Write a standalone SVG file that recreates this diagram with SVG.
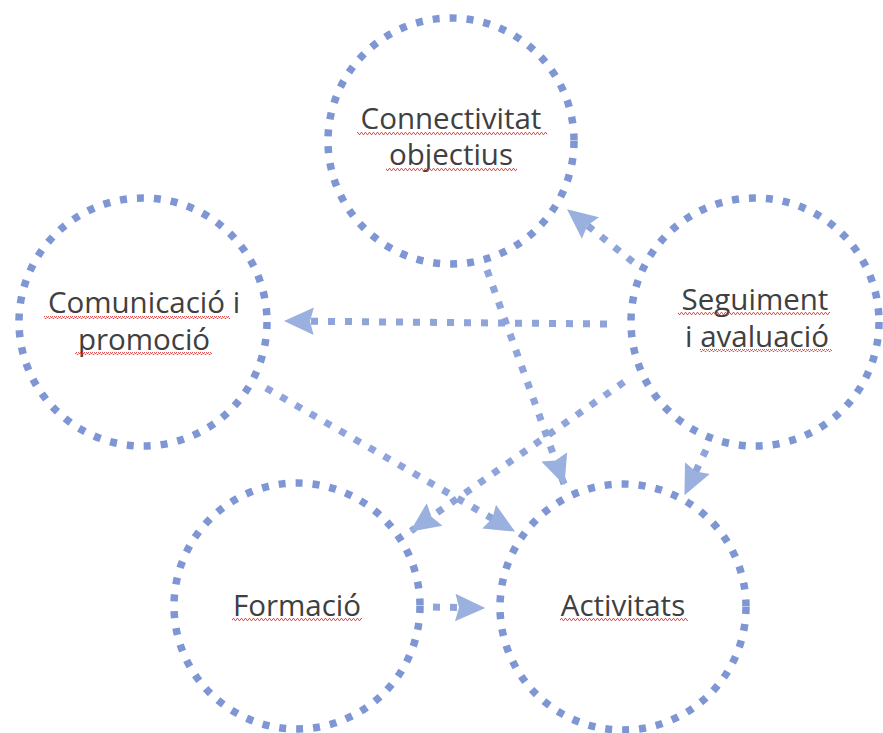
<svg xmlns="http://www.w3.org/2000/svg" width="883" height="733" viewBox="0 0 883 733">
<style>
.ring{fill:none;stroke:#7f96d5;stroke-width:7.5;stroke-dasharray:7 10}
.conn{fill:none;stroke:#8ea4da;stroke-width:7;stroke-dasharray:7 10}
.lbl{font-family:"Open Sans","Noto Sans","Liberation Sans",sans-serif;font-size:29.5px;fill:#404040;text-anchor:middle}
.sq{fill:url(#squig)}
</style>
<defs>
<marker id="ah" markerUnits="userSpaceOnUse" markerWidth="30" markerHeight="30" viewBox="0 -12 24 24" refX="23" refY="0" orient="auto">
<path d="M0,-11 L24,0 L0,11 L3,0 Z" fill="#9ab0df"/>
</marker>
<pattern id="squig" patternUnits="userSpaceOnUse" width="4" height="3">
<polyline points="0,2.5 1,0.5 2,0.5 3,2.5 4,2.5" fill="none" stroke="#e04040" stroke-width="0.9"/>
</pattern>
</defs>
<rect width="883" height="733" fill="#ffffff"/>
<g id="connectors">
<line class="conn" x1="633" y1="262" x2="568" y2="210" marker-end="url(#ah)"/>
<line class="conn" x1="607" y1="324" x2="285" y2="321" marker-end="url(#ah)"/>
<line class="conn" x1="487" y1="270" x2="564" y2="484" marker-end="url(#ah)"/>
<line class="conn" x1="706" y1="450" x2="685" y2="494" marker-end="url(#ah)"/>
<line class="conn" x1="624" y1="382" x2="411" y2="531" marker-end="url(#ah)"/>
<line class="conn" x1="266" y1="388" x2="514" y2="531" marker-end="url(#ah)"/>
<line class="conn" x1="433" y1="607" x2="484" y2="608" marker-end="url(#ah)"/>
</g>
<g id="node-connectivitat">
<circle class="ring" cx="451" cy="141" r="123"/>
<text class="lbl" x="451" y="129">Connectivitat</text>
<text class="lbl" x="451" y="165">objectius</text>
<rect class="sq" x="357" y="132" width="190" height="3"/>
<rect class="sq" x="386" y="168" width="131" height="3"/>
</g>
<g id="node-comunicacio">
<circle class="ring" cx="143" cy="322" r="124"/>
<text class="lbl" x="144" y="313">Comunicació i</text>
<text class="lbl" x="144" y="350">promoció</text>
<rect class="sq" x="44" y="316" width="186" height="3"/>
<rect class="sq" x="75" y="352" width="137" height="3"/>
</g>
<g id="node-seguiment">
<circle class="ring" cx="755" cy="322" r="124"/>
<text class="lbl" x="755" y="310">Seguiment</text>
<text class="lbl" x="757" y="347">i avaluació</text>
<rect class="sq" x="678" y="312" width="152" height="3"/>
<rect class="sq" x="700" y="349" width="132" height="3"/>
</g>
<g id="node-formacio">
<circle class="ring" cx="297" cy="606" r="123"/>
<text class="lbl" x="297" y="616">Formació</text>
<rect class="sq" x="232" y="618" width="130" height="3"/>
</g>
<g id="node-activitats">
<circle class="ring" cx="623" cy="607" r="123"/>
<text class="lbl" x="623" y="616">Activitats</text>
<rect class="sq" x="560" y="618" width="128" height="3"/>
</g>
</svg>
